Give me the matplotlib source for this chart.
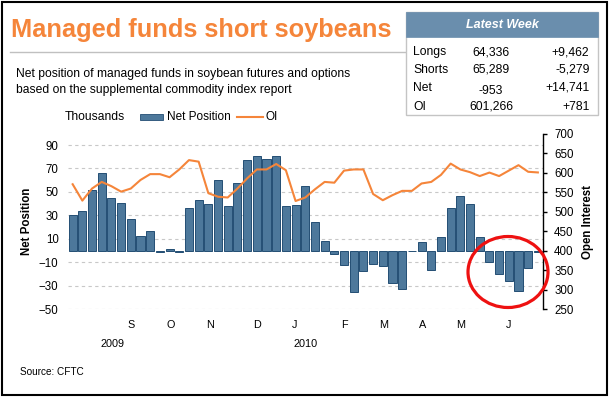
import numpy as np
import matplotlib
matplotlib.use("Agg")
import matplotlib.pyplot as plt
from matplotlib.patches import Rectangle, Ellipse
from matplotlib.lines import Line2D

plt.rcParams['font.family'] = ['Liberation Sans', 'DejaVu Sans']

# weekly data, thousands of contracts (net) and open interest
net_position = [30, 34, 52, 66.5, 44.5, 41, 27, 12.5, 16.5, -1, 1.5, -1.5,
                36, 43, 40, 60, 38, 57.5, 77, 80.5, 78.5, 81, 38, 39,
                55, 24, 8.5, -3, -12, -35.5, -17.5, -11.5, -13.5, -27.5, -32.5, -0.5,
                7.5, -16.5, 12, 36, 46.5, 39.5, 12, -10, -20, -25.5, -34, -15, -0.953]
open_interest = [571, 529, 560, 577, 566, 552, 560, 582, 597, 597, 589, 609,
                 633, 629, 548, 539, 537, 560, 586, 609, 609, 623, 607, 528,
                 537, 558, 577, 575, 606, 609, 609, 546, 530, 543, 554, 554,
                 573, 577, 595, 624, 609, 602, 592, 601, 592, 606, 620, 603, 601.3]
month_labels = ['S', 'O', 'N', 'D', 'J', 'F', 'M', 'A', 'M', 'J']
month_pos = [6, 10.15, 14.2, 19, 22.9, 28, 32.1, 36.1, 40, 45]
year_labels = ['2009', '2010']
year_pos = [4.1, 24.05]

table_rows = ['Longs', 'Shorts', 'Net', 'OI']
table_values = ['64,336', '65,289', '-953', '601,266']
table_changes = ['+9,462', '-5,279', '+14,741', '+781']

W, H = 611, 397
orange = '#F5853A'
bar_face = '#4D789B'
bar_edge = '#234E74'


def fx(x):
    return x / W


def fy(y):
    return 1 - y / H


fig = plt.figure(figsize=(W / 100, H / 100), dpi=100)
fig.patch.set_facecolor('white')

# outer frame
fig.add_artist(Rectangle((fx(1.5), fy(394.5)), fx(607) - fx(1.5), fy(1.5) - fy(394.5),
                         transform=fig.transFigure, fill=False, edgecolor='black', lw=1.5))

ax = fig.add_axes([fx(68.3), fy(309.3), fx(543) - fx(68.3), fy(134) - fy(309.3)])
ax2 = ax.twinx()

weeks = np.arange(len(net_position))
ax.bar(weeks, net_position, width=0.83, color=bar_face, edgecolor=bar_edge, linewidth=0.7, zorder=3)
ax2.plot(weeks, open_interest, color=orange, lw=1.5, zorder=4)

ax.set_xlim(-0.45, 48.53)
ax.set_ylim(-50, 99.4)
ax2.set_ylim(250, 700)
ax.set_yticks(np.arange(-50, 91, 20))
ax2.set_yticks(np.arange(250, 701, 50))
ax.yaxis.grid(True, linestyle=(0, (3, 3)), color='#C8C8C8', lw=0.8, zorder=0)
ax.set_axisbelow(True)
ax.set_zorder(ax2.get_zorder() - 1)
ax.patch.set_visible(False)
ax2.patch.set_visible(False)

for a in (ax, ax2):
    for s in ('top', 'left', 'bottom'):
        a.spines[s].set_visible(False)
ax.spines['right'].set_visible(False)
ax2.spines['right'].set_color('black')
ax2.spines['right'].set_linewidth(1)

ax.tick_params(axis='y', length=0, pad=7, labelsize=8.3)
ax2.tick_params(axis='y', length=3, width=1, pad=5, labelsize=8.3)
ax.set_xticks(month_pos)
ax.set_xticklabels(month_labels, fontsize=7.8)
ax.tick_params(axis='x', length=0, pad=8)

ax.set_ylabel('Net Position', fontsize=8.3, fontweight='bold', labelpad=4)
ax2.set_ylabel('Open Interest', fontsize=8.3, fontweight='bold', labelpad=6)

for lab, p in zip(year_labels, year_pos):
    ax.text(p, -0.2, lab, transform=ax.get_xaxis_transform(), ha='center', va='center', fontsize=7.8)

# title block
fig.text(fx(11), fy(30), 'Managed funds short soybeans', color=orange, fontsize=18.3,
         fontweight='bold', ha='left', va='center')
fig.add_artist(Line2D([fx(10), fx(405)], [fy(51.5), fy(51.5)], transform=fig.transFigure,
                      color='#C0C0C0', lw=1))
fig.text(fx(16), fy(74), 'Net position of managed funds in soybean futures and options',
         fontsize=8.7, ha='left', va='center')
fig.text(fx(16), fy(90.5), 'based on the supplemental commodity index report',
         fontsize=8.7, ha='left', va='center')

# legend
fig.text(fx(65), fy(117), 'Thousands', fontsize=8.7, ha='left', va='center')
fig.add_artist(Rectangle((fx(140), fy(120)), fx(163) - fx(140), fy(114) - fy(120),
                         transform=fig.transFigure, facecolor=bar_face, edgecolor=bar_edge, lw=0.6))
fig.text(fx(167), fy(117), 'Net Position', fontsize=8.5, ha='left', va='center')
fig.add_artist(Line2D([fx(237), fx(263)], [fy(117), fy(117)], transform=fig.transFigure,
                      color=orange, lw=1.5))
fig.text(fx(265), fy(117), 'OI', fontsize=8.5, ha='left', va='center')

# latest week table
fig.add_artist(Rectangle((fx(405.5), fy(115)), fx(598) - fx(405.5), fy(11.5) - fy(115),
                         transform=fig.transFigure, facecolor='white', edgecolor='#C4C4C4', lw=1))
fig.add_artist(Rectangle((fx(405.5), fy(37.3)), fx(598) - fx(405.5), fy(11.5) - fy(37.3),
                         transform=fig.transFigure, facecolor='#6A8EAD', edgecolor='#6A8EAD', lw=0.5))
fig.text(fx(502), fy(24.5), 'Latest Week', color='white', fontsize=9, fontweight='bold',
         fontstyle='italic', ha='center', va='center')
row_y = [52.5, 70, 88, 106.5]
for name, val, chg, yy in zip(table_rows, table_values, table_changes, row_y):
    fig.text(fx(413), fy(yy), name, fontsize=8.7, ha='left', va='center')
    fig.text(fx(491), fy(yy + (2.5 if name == 'Net' else 0)), val, fontsize=8.7, ha='center', va='center')
    fig.text(fx(589.5), fy(yy), chg, fontsize=8.7, ha='right', va='center')

# highlight of the latest weeks
fig.add_artist(Ellipse((fx(508), fy(272)), fx(80), fy(0) - fy(71), transform=fig.transFigure,
                       fill=False, edgecolor='#EE1111', lw=2.3, zorder=10))

fig.text(fx(20), fy(372), 'Source: CFTC', fontsize=7.2, ha='left', va='center')

fig.savefig('out.png', dpi=100)
